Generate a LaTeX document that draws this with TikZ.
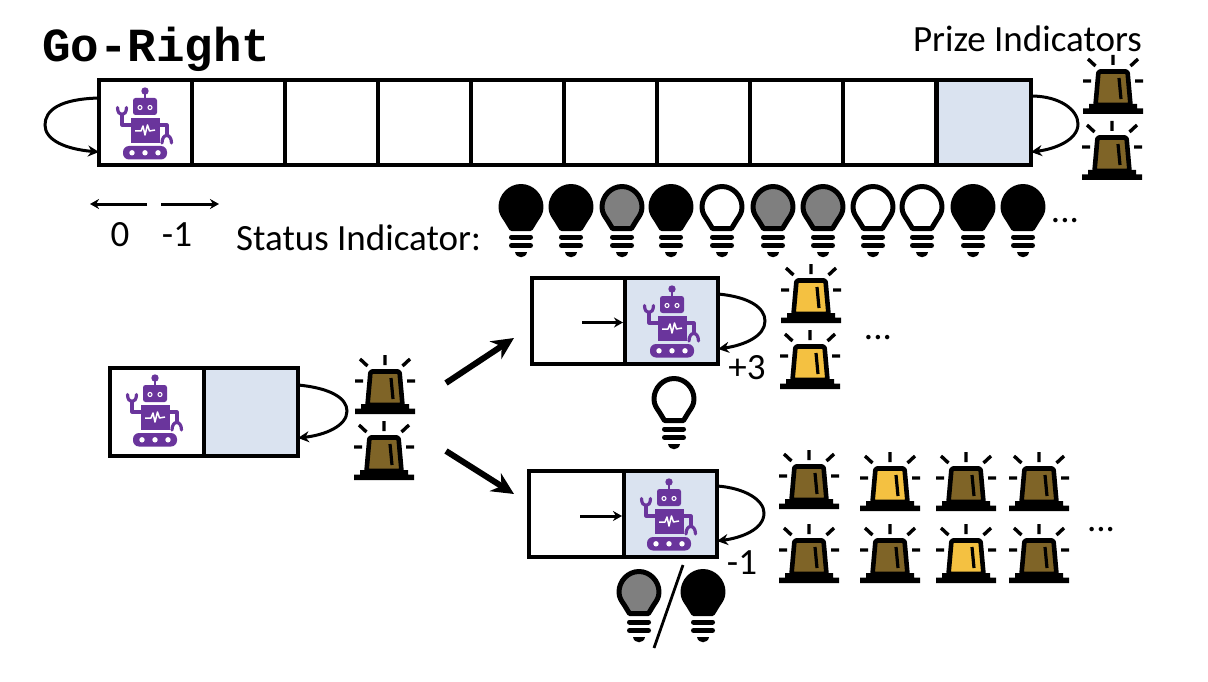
\documentclass[tikz,border=0pt]{standalone}
\usepackage{fontspec}
\setmainfont{Carlito}
\newfontfamily\monob[BoldFont=Liberation Mono Bold]{Liberation Mono}
\usetikzlibrary{arrows.meta,calc}
\definecolor{cellblue}{HTML}{DAE3F0}
\definecolor{robotc}{HTML}{6A359C}
\definecolor{alarmoff}{HTML}{7F6427}
\definecolor{alarmon}{HTML}{F4C141}
\definecolor{bulbgray}{HTML}{7F7F7F}
\tikzset{
  cellbox/.style={draw=black,line width=3.6pt,minimum height=#1,inner sep=0pt,outer sep=0pt,anchor=north west},
  cellw/.style={minimum width=#1},
  txt/.style={font=\fontsize{37}{37}\selectfont,inner sep=0pt,text=black},
  conn/.style={line width=3pt,-{Stealth[length=11pt,width=11pt]}},
  thin conn/.style={line width=3pt,-{Stealth[length=9pt,width=10pt]}},
  big conn/.style={line width=6pt,-{Stealth[length=22pt,width=21pt]}},
  pics/robot/.style={code={
    \fill[robotc] (0,-34) circle (3.7);
    \draw[robotc,line width=2.6pt] (0,-34) -- (0,-26);
    \fill[robotc,rounded corners=2.5pt] (-12,-27) rectangle (12,-10);
    \draw[white,line width=1.1pt] (-5,-17.5) circle (2) (5,-17.5) circle (2);
    \fill[robotc] (-14.5,-7) rectangle (14.5,18);
    \draw[white,line width=1.5pt,line join=round] (-10,6) -- (-4,6) -- (-2,1) -- (0,10) -- (2.5,0) -- (4.5,6) -- (10,5);
    \fill[robotc,rounded corners=6pt] (-22,21) rectangle (22,34.5);
    \fill[white] (-13,27.8) circle (2.7) (0,27.8) circle (2.7) (13,27.8) circle (2.7);
    \draw[robotc,line width=3.2pt,line join=round] (-14,0) -- (-23,0) -- (-23,-10);
    \draw[robotc,line width=3.2pt,line cap=round] (-27.5,-17.5) .. controls (-27.5,-8) and (-18.5,-8) .. (-18.5,-17.5);
    \draw[robotc,line width=3.2pt,line join=round] (14,0) -- (22,0) -- (22,11);
    \draw[robotc,line width=3.2pt,line cap=round] (17,18) .. controls (17,8) and (26.5,8) .. (26.5,18);
  }},
  pics/alarm/.style={code={
    \filldraw[fill=#1,draw=black,line width=4.6pt,line join=round,rounded corners=1.5pt] (-14.5,-42.5) -- (14.5,-42.5) -- (17.5,-9) -- (-17.5,-9) -- cycle;
    \fill[black] (-24,-10) rectangle (24,-5) (-30,-5.5) rectangle (30,0);
    \draw[black,line width=3.2pt] (6,-36) -- (8,-15);
    \draw[black,line width=3.4pt] (0,-59) -- (0,-49) (-25,-55) -- (-17.5,-48) (25,-55) -- (17.5,-48) (-30,-33) -- (-22,-33) (30,-33) -- (22,-33);
  }},
  pics/bulb/.style={code={
    \filldraw[fill=#1,draw=black,line width=5pt,line join=round]
      (-20,0) .. controls (-20,-11) and (-11,-20.5) .. (0,-20.5)
      .. controls (11,-20.5) and (20,-11) .. (20,0)
      .. controls (20,5.5) and (17.5,9) .. (15,12.5) -- (9.5,21.5) -- (-9.5,21.5) -- (-15,12.5)
      .. controls (-17.5,9) and (-20,5.5) .. (-20,0) -- cycle;
    \draw[black,line width=5pt,line cap=round] (-9.5,30) -- (9.5,30) (-9.5,38.5) -- (9.5,38.5);
    \fill[black] (-6,45) -- (6,45) .. controls (5,52) and (-5,52) .. (-6,45) -- cycle;
  }},
}
\newcommand{\mycell}[5][white]{\node[cellbox=#5,cellw=#4,fill=#1] (#2) at #3 {};}
\begin{document}
\begin{tikzpicture}[x=1pt,y=-1pt]
\useasboundingbox (0,0) rectangle (1208,682);
% top row
\foreach \n/\x in {1/99,2/192,3/285,4/378,5/471,6/564,7/657,8/750,9/843}{
  \mycell{c\n}{(\x,80)}{93pt}{85pt}
}
\mycell[cellblue]{c10}{(937,80)}{94pt}{85pt}
\node[font=\monob\bfseries\fontsize{47.5}{47.5}\selectfont,anchor=base west,inner sep=0pt] (title) at (42,62) {Go-Right};
\node[txt,anchor=base east] (prize) at (1142,52) {Prize Indicators};
\pic at (145,125) {robot};
\pic at (1113,114) {alarm=alarmoff};
\pic at (1112,180) {alarm=alarmoff};
\coordinate (ls) at (99,98); \coordinate (le) at (99,152);
\draw[conn] (ls) .. controls (60,99) and (45,110) .. (45,125) .. controls (45,140) and (65,149) .. (le);
\coordinate (rs) at (1031,96); \coordinate (re) at (1031,152);
\draw[conn] (rs) .. controls (1060,96) and (1078,110) .. (1078,124) .. controls (1078,140) and (1055,149) .. (re);
% action legend
\coordinate (a0s) at (147,204); \coordinate (a0e) at (90,204);
\coordinate (a1s) at (161,204); \coordinate (a1e) at (219,204);
\draw[thin conn] (a0s) -- (a0e);
\draw[thin conn] (a1s) -- (a1e);
\node[txt] (l0) at (120,235) {0};
\node[txt] (l1) at (177,235) {-1};
\node[txt,anchor=base west] (status) at (236,250) {Status Indicator:};
\foreach \x/\c in {521/black,571/black,622/bulbgray,671/black,722/white,773/bulbgray,823/bulbgray,873/white,922/white,973/black,1023/black}{
  \pic at (\x,207) {bulb=\c};
}
\node[txt] (d1) at (1065,221) {...};
% left state
\mycell{m1}{(110,368)}{94pt}{88pt}
\mycell[cellblue]{m2}{(204,368)}{94pt}{88pt}
\pic at (155,412) {robot};
\coordinate (ms) at (298,385); \coordinate (me) at (298,438);
\draw[conn] (ms) .. controls (330,388) and (347,398) .. (347,411) .. controls (347,426) and (325,435) .. (me);
\pic at (385,414) {alarm=alarmoff};
\pic at (384,480) {alarm=alarmoff};
% big arrows
\coordinate (b0) at (446,383); \coordinate (b1) at (514,338);
\coordinate (b2) at (446,451); \coordinate (b3) at (514,494);
\draw[big conn] (b0) -- (b1);
\draw[big conn] (b2) -- (b3);
% upper right state
\mycell{u1}{(532,278)}{93pt}{86pt}
\mycell[cellblue]{u2}{(625,278)}{93pt}{86pt}
\pic at (672,323) {robot};
\coordinate (us) at (582,322.5);
\draw[thin conn] (us) -- ($(u2.west)+(-2,1.5)$);
\coordinate (uls) at (718,294); \coordinate (ule) at (718,349);
\draw[conn] (uls) .. controls (750,297) and (765,308) .. (765,321) .. controls (765,336) and (745,345) .. (ule);
\node[txt] (p3) at (747,368) {+3};
\pic at (811,323) {alarm=alarmon};
\pic at (810,389) {alarm=alarmon};
\node[txt] (d2) at (878,338) {...};
\pic at (674,399) {bulb=white};
% lower right state
\mycell{v1}{(529,471)}{95pt}{86pt}
\mycell[cellblue]{v2}{(624,471)}{93pt}{86pt}
\pic at (669,516) {robot};
\coordinate (vs) at (580,516);
\draw[thin conn] (vs) -- ($(v2.west)+(-2,2)$);
\coordinate (vls) at (717,486); \coordinate (vle) at (717,541);
\draw[conn] (vls) .. controls (745,488) and (764,500) .. (764,513) .. controls (764,530) and (740,538) .. (vle);
\node[txt] (m1l) at (742,563) {-1};
\foreach \x/\c/\d/\yy in {809/alarmoff/alarmoff/509,890/alarmon/alarmoff/511,966/alarmoff/alarmon/511,1039/alarmoff/alarmoff/511}{
  \pic at (\x,\yy) {alarm=\c};
  \pic at (\x,583) {alarm=\d};
}
\node[txt] (d3) at (1101,530) {...};
\pic at (639,592) {bulb=bulbgray};
\pic at (703,592) {bulb=black};
\coordinate (sl0) at (683,565); \coordinate (sl1) at (654,648);
\draw[line width=2.8pt] (sl0) -- (sl1);
\end{tikzpicture}
\end{document}
